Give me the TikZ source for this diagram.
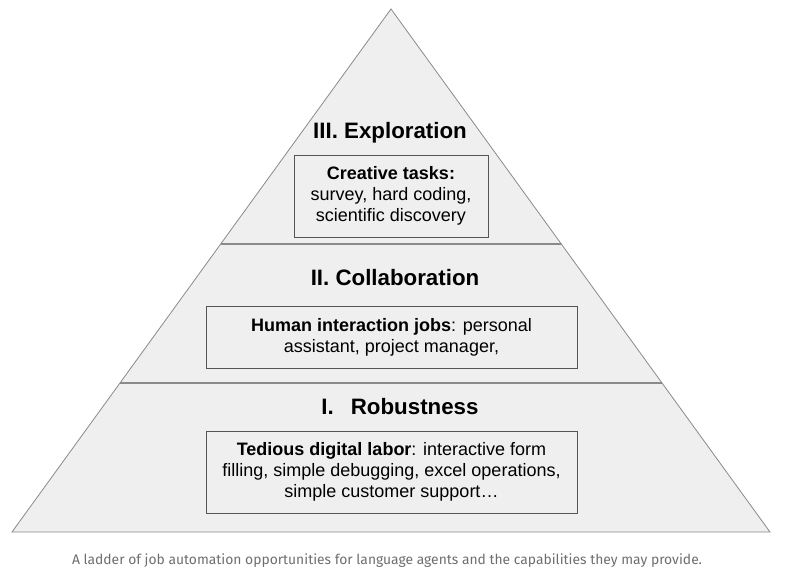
\documentclass[tikz,border=0pt]{standalone}
\usepackage{fontspec}
\setmainfont{Liberation Sans}
\newfontfamily\captionfont{Fira Sans}
\usetikzlibrary{calc,positioning}
\definecolor{pyrfill}{HTML}{EFEFEF}
\definecolor{edgegray}{HTML}{8A8A8A}
\definecolor{boxline}{HTML}{555555}
\definecolor{capgray}{HTML}{6E6E6E}

\begin{document}
\begin{tikzpicture}[x=1pt, y=-1pt]
    \useasboundingbox (0,0) rectangle (785,577);
    \tikzset{TitleStyle/.style= {inner sep=0pt,
        font  = \fontsize{22.3}{25}\selectfont\bfseries,
        text  = black},
      BoxStyle/.style = {draw=boxline, fill=pyrfill, line width=0.9pt,
        inner sep=0pt, align=center,
        font  = \fontsize{18}{21}\selectfont},
      CaptionStyle/.style = {inner sep=0pt, text=capgray,
        font  = \captionfont\fontsize{13.85}{16}\selectfont}}
    % pyramid outline
    \coordinate (apex) at (391,9);
    \coordinate (baseL) at (12,532);
    \coordinate (baseR) at (770,532);
    \filldraw[fill=pyrfill, draw=edgegray, line width=0.8pt] (apex) -- (baseR) -- (baseL) -- cycle;
    % level separators
    \coordinate (upL) at ($(apex)!0.4493!(baseL)$);
    \coordinate (upR) at ($(apex)!0.4493!(baseR)$);
    \coordinate (lowL) at ($(apex)!0.7151!(baseL)$);
    \coordinate (lowR) at ($(apex)!0.7151!(baseR)$);
    \draw[edgegray, line width=1.3pt] (upL) -- (upR);
    \draw[edgegray, line width=1.3pt] (lowL) -- (lowR);
    % level III
    \node[TitleStyle] (explore) at (390,133) {III. Exploration};
    \node[BoxStyle, minimum width=194pt, minimum height=82pt] (creative) at (391,196)
      {\textbf{Creative tasks:}\\survey, hard coding,\\scientific discovery};
    % level II
    \node[TitleStyle] (collab) at (395,278) {II. Collaboration};
    \node[BoxStyle, minimum width=371pt, minimum height=62pt] (human) at (391.5,337)
      {\textbf{Human interaction jobs}: personal\\assistant, project manager,};
    % level I
    \node[TitleStyle] (robust) at (400,407) {I.\hspace{17pt}Robustness};
    \node[BoxStyle, minimum width=371pt, minimum height=82pt] (tedious) at (391.5,472)
      {\textbf{Tedious digital labor}: interactive form\\filling, simple debugging, excel operations,\\simple customer support…};
    % caption
    \node[CaptionStyle] (caption) at (387,561) {A ladder of job automation opportunities for language agents and the capabilities they may provide.};
\end{tikzpicture}
\end{document}
